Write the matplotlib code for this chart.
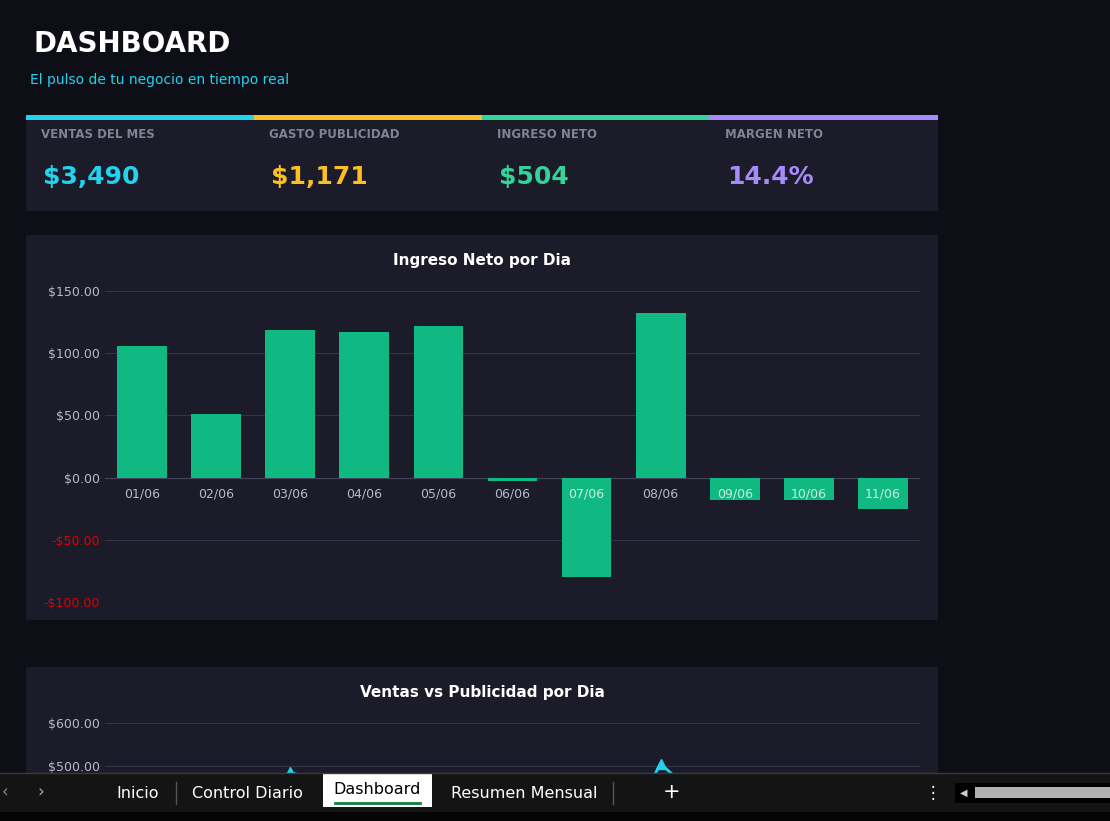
import matplotlib
matplotlib.use("Agg")
import matplotlib.pyplot as plt
from matplotlib.patches import Rectangle

days = ["01/06","02/06","03/06","04/06","05/06","06/06","07/06","08/06","09/06","10/06","11/06"]
ingreso = [106, 51, 119, 117, 122, -3, -80, 132, -18, -18, -25]
ventas = [430, 400, 485, 440, 450, 300, 200, 505, 350, 380, 330]
kpi_labels = ["VENTAS DEL MES", "GASTO PUBLICIDAD", "INGRESO NETO", "MARGEN NETO"]
kpi_values = ["$3,490", "$1,171", "$504", "14.4%"]
kpi_colors = ["#22d3ee", "#fbbf24", "#34d399", "#a78bfa"]
tabs = ["Inicio", "Control Diario", "Dashboard", "Resumen Mensual"]

W, H = 1110, 821
fig = plt.figure(figsize=(W/100, H/100), dpi=100)
fig.patch.set_facecolor("#0e0e16")
bg = fig.add_axes([0, 0, 1, 1]); bg.set_xlim(0, W); bg.set_ylim(H, 0); bg.axis("off")
bg.set_zorder(0)
panel = "#1b1b29"
def rect(x, y, w, h, c, z=1):
    bg.add_patch(Rectangle((x, y), w, h, color=c, zorder=z, lw=0))

bg.text(33, 44, "DASHBOARD", color="white", fontsize=20, fontweight="bold", va="center")
bg.text(30, 80, "El pulso de tu negocio en tiempo real", color="#22d3ee", fontsize=10, va="center")
rect(26, 115, 912, 96, panel)
for i in range(4):
    x0 = 26 + i*228
    rect(x0, 115, 228, 5, kpi_colors[i], 2)
    bg.text(x0+15, 135, kpi_labels[i], color="#7d8595", fontsize=8.5, fontweight="bold", va="center")
    bg.text(x0+17, 177, kpi_values[i], color=kpi_colors[i], fontsize=18, fontweight="bold", va="center")
rect(26, 235, 912, 385, panel)
rect(26, 667, 912, 154, panel)
bg.text(482, 260, "Ingreso Neto por Dia", color="white", fontsize=11, fontweight="bold", ha="center", va="center")
bg.text(482, 692, "Ventas vs Publicidad por Dia", color="white", fontsize=11, fontweight="bold", ha="center", va="center")

# bar chart
ax = fig.add_axes([105/W, 1-602/H, 815/W, 311/H])
ax.set_facecolor("none")
x = list(range(len(days)))
ax.bar(x, ingreso, width=0.67, color="#10b981", zorder=3)
ax.set_xlim(-0.5, 10.5); ax.set_ylim(-100, 150)
ax.set_yticks([-100, -50, 0, 50, 100, 150])
ax.set_yticklabels([f"${v:,.2f}" if v >= 0 else f"-${-v:,.2f}" for v in [-100, -50, 0, 50, 100, 150]])
for lab, v in zip(ax.get_yticklabels(), [-100, -50, 0, 50, 100, 150]):
    lab.set_color("#e00000" if v < 0 else "#b8bcc6")
ax.grid(axis="y", color="#33334a", lw=0.8, zorder=0)
ax.tick_params(length=0, labelsize=9)
for s in ax.spines.values(): s.set_visible(False)
ax.set_xticks([])
for xi, d in zip(x, days):
    ax.text(xi, -8, d, color="#b8bcc6" if xi < 6 or xi == 7 else "#c8f0e0", fontsize=9, ha="center", va="top", zorder=4)
ax.axhline(0, color="#44445a", lw=0.8, zorder=2)

# second chart (mostly hidden)
ax2 = fig.add_axes([105/W, 1-790/H, 815/W, 67/H])
ax2.set_facecolor("none")
ax2.set_xlim(-0.5, 10.5); ax2.set_ylim(600 - 67*100/43, 600)
ax2.plot(x, ventas, color="#22d3ee", lw=2, marker="^", ms=7, zorder=3)
ax2.set_yticks([500, 600]); ax2.set_yticklabels(["$500.00", "$600.00"])
ax2.grid(axis="y", color="#33334a", lw=0.8)
ax2.tick_params(length=0, labelsize=9, labelcolor="#b8bcc6")
ax2.set_xticks([])
for s in ax2.spines.values(): s.set_visible(False)

# taskbar overlay
top = fig.add_axes([0, 0, 1, 1]); top.set_xlim(0, W); top.set_ylim(H, 0); top.axis("off")
top.add_patch(Rectangle((0, 773), W, 40, color="#141414", lw=0))
top.add_patch(Rectangle((0, 812), W, 9, color="#050505", lw=0))
top.plot([0, W], [773, 773], color="#3a3a3a", lw=1)
top.text(2, 792, "‹", color="#888", fontsize=12, va="center")
top.text(37, 792, "›", color="#aaa", fontsize=12, va="center")
pos = [138, 247, 377, 524]
for t, px in zip(tabs, pos):
    if t == "Dashboard":
        top.add_patch(Rectangle((323, 773), 109, 34, color="white", lw=0))
        top.plot([335, 420], [803, 803], color="#107c41", lw=2)
        top.text(px, 790, t, color="black", fontsize=11.5, ha="center", va="center")
    else:
        top.text(px, 793, t, color="white", fontsize=11.5, ha="center", va="center")
for sx in [176, 613]:
    top.plot([sx, sx], [782, 804], color="#555", lw=1)
top.text(672, 792, "+", color="white", fontsize=15, ha="center", va="center")
top.text(933, 793, "⋮", color="white", fontsize=12, ha="center", va="center")
top.add_patch(Rectangle((955, 783), 160, 20, color="#000", lw=0))
top.add_patch(Rectangle((975, 787), 140, 11, color="#b0b0b0", lw=0))
top.text(964, 793, "◀", color="#ccc", fontsize=7, ha="center", va="center")

fig.savefig("out.png", dpi=100)
